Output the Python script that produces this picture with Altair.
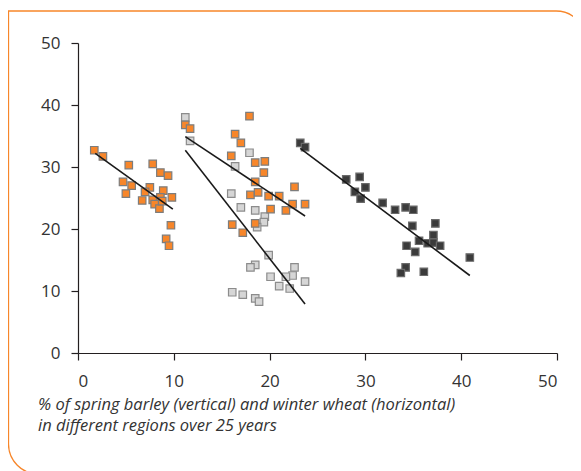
import altair as alt
import pandas as pd

# Orange points (two regions share the orange colour)
orange_x = [1.7, 2.6, 5.3, 7.8, 8.6, 9.4, 4.7, 5.6, 5.0, 7.5, 7.0, 8.9, 8.6, 9.8, 6.7, 7.8, 8.0, 8.5, 8.8, 9.7, 9.2, 9.5,
            11.2, 11.7, 17.9, 16.4, 17.0, 16.0, 18.5, 19.5, 19.4, 18.5, 18.0, 18.8, 19.9, 21.0, 22.6, 20.1, 21.7, 22.4, 23.7, 16.1, 17.2, 18.5]
orange_y = [32.7, 31.7, 30.3, 30.5, 29.1, 28.6, 27.6, 27.0, 25.7, 26.7, 26.0, 26.2, 25.1, 25.1, 24.6, 24.7, 24.0, 23.3, 24.5, 20.6, 18.4, 17.3,
            36.8, 36.2, 38.2, 35.3, 33.9, 31.8, 30.7, 30.9, 29.1, 27.6, 25.5, 25.9, 25.3, 25.3, 26.8, 23.2, 23.0, 24.0, 24.0, 20.7, 19.4, 20.9]

# Light grey points
grey_x = [11.2, 11.7, 17.9, 16.4, 16.0, 17.0, 18.5, 19.5, 19.4, 18.7, 19.9, 18.5, 18.0, 22.6, 20.1, 22.4, 21.7, 23.7, 21.0, 22.1, 16.1, 17.2, 18.5, 18.9]
grey_y = [38.0, 34.2, 32.3, 30.1, 25.7, 23.5, 23.0, 22.0, 21.1, 20.3, 15.8, 14.2, 13.8, 13.8, 12.3, 12.5, 12.3, 11.5, 10.8, 10.4, 9.8, 9.4, 8.8, 8.3]

# Dark grey points
dark_x = [23.2, 23.7, 28.0, 29.4, 30.0, 28.9, 29.5, 31.8, 33.1, 34.2, 35.0, 34.9, 37.3, 37.1, 35.6, 36.5, 37.1, 37.8, 34.3, 35.2, 40.9, 34.2, 33.7, 36.1]
dark_y = [33.9, 33.2, 28.0, 28.4, 26.7, 26.0, 24.9, 24.2, 23.1, 23.5, 23.1, 20.5, 20.9, 19.0, 18.1, 17.7, 17.8, 17.3, 17.3, 16.3, 15.4, 13.8, 12.9, 13.1]

# Trend lines (start / end in data units)
trend_id = ["a", "a", "b", "b", "c", "c", "d", "d"]
trend_x = [1.8, 9.9, 11.2, 23.7, 11.2, 23.7, 23.2, 40.9]
trend_y = [32.2, 23.2, 34.9, 22.1, 32.7, 7.9, 33.0, 12.5]

x_ticks = [0, 10, 20, 30, 40, 50]
y_ticks = [0, 10, 20, 30, 40, 50]

caption = ["% of spring barley (vertical) and winter wheat (horizontal)",
           "in different regions over 25 years"]

ORANGE = "#F7862A"

pts = pd.concat([
    pd.DataFrame({"x": grey_x, "y": grey_y, "g": "grey"}),
    pd.DataFrame({"x": orange_x, "y": orange_y, "g": "orange"}),
    pd.DataFrame({"x": dark_x, "y": dark_y, "g": "dark"}),
], ignore_index=True)
pts["order"] = range(len(pts))

lines = pd.DataFrame({"id": trend_id, "x": trend_x, "y": trend_y})

W, H = 479, 310

xsc = alt.Scale(domain=[0, 50], nice=False, zero=False)
ysc = alt.Scale(domain=[0, 50], nice=False, zero=False)

x_axis = alt.Axis(values=x_ticks, title=None, grid=False, tickSize=7, labelPadding=13,
                  domainColor="#231f20", tickColor="#231f20", labelColor="#333333",
                  labelFont="Open Sans", labelFontSize=17, domainWidth=1.2, tickWidth=1.2)
y_axis = alt.Axis(values=y_ticks, title=None, grid=False, tickSize=7, labelPadding=11,
                  domainColor="#231f20", tickColor="#231f20", labelColor="#333333",
                  labelFont="Open Sans", labelFontSize=17, domainWidth=1.2, tickWidth=1.2)

points = alt.Chart(pts).mark_square(size=56, opacity=1, strokeWidth=1.2).encode(
    x=alt.X("x:Q", scale=xsc, axis=x_axis),
    y=alt.Y("y:Q", scale=ysc, axis=y_axis),
    fill=alt.Fill("g:N", scale=alt.Scale(domain=["orange", "grey", "dark"],
                                         range=[ORANGE, "#d6d6d6", "#3b3b3b"]), legend=None),
    stroke=alt.Stroke("g:N", scale=alt.Scale(domain=["orange", "grey", "dark"],
                                             range=["#7d7d7d", "#8c8c8c", "#6a6a6a"]), legend=None),
    order="order:Q",
)

trend = alt.Chart(lines).mark_line(color="#1a1a1a", strokeWidth=1.6).encode(
    x=alt.X("x:Q", scale=xsc),
    y=alt.Y("y:Q", scale=ysc),
    detail="id:N",
)

border = alt.Chart(alt.Data(values=[{}])).mark_rect(
    fill="transparent", stroke=ORANGE, strokeWidth=1.3,
    cornerRadiusTopRight=30, cornerRadiusBottomLeft=30, cornerRadiusTopLeft=0,
).encode(
    x=alt.value(-69.5), x2=alt.value(508), y=alt.value(-32), y2=alt.value(431)
)

cap = alt.Chart(alt.Data(values=[{}])).mark_text(
    align="left", baseline="middle", font="Open Sans", fontStyle="italic", fontSize=16.5,
    color="#333333", lineHeight=21,
).encode(x=alt.value(-40), y=alt.value(362), text=alt.value(caption))

chart = alt.layer(border, points, trend, cap).properties(
    width=W, height=H,
    autosize=alt.AutoSizeParams(type="none"),
    padding={"left": 70, "top": 35, "right": 16, "bottom": 118},
).configure_view(stroke=None)

chart.save("out.html", embed_options={"renderer": "svg", "actions": False})
